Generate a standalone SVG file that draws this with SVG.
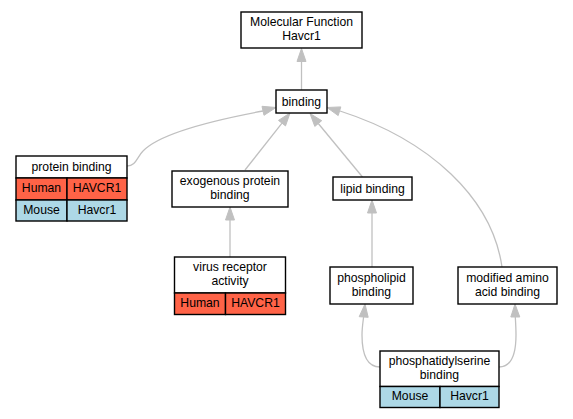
<svg xmlns="http://www.w3.org/2000/svg" width="573" height="419" viewBox="0 0 573 419">
<style>
.box{fill:#fff;stroke:#000;stroke-width:1.4}
.hum{fill:#ff6347;stroke:#000;stroke-width:1.4}
.mou{fill:#add8e6;stroke:#000;stroke-width:1.4}
.e{fill:none;stroke:#c0c0c0;stroke-width:1.3}
.ah{fill:#c0c0c0;stroke:#c0c0c0;stroke-width:1}
text{font-family:"Liberation Sans",Arial,sans-serif;font-size:12.2px;fill:#000;text-anchor:middle}
</style>
<rect width="573" height="419" fill="#fff"/>
<g id="connectors">
  <path class="e" d="M301.5,90 L301.5,61"/>
  <polygon class="ah" points="301.5,48.5 306,61.5 297,61.5"/>
  <path class="e" d="M127,166 C136,166 137,157 143,151 C160,133 220,119 263,111"/>
  <polygon class="ah" points="276,107.5 264,115.3 262,106.3"/>
  <path class="e" d="M245,170 L282,123.2"/>
  <polygon class="ah" points="290,113 285.5,125.9 278.5,120.4"/>
  <path class="e" d="M362.5,177 L318.3,123.5"/>
  <polygon class="ah" points="310,113.5 321.7,120.7 314.8,126.4"/>
  <path class="e" d="M502,267 C492,198 430,140 340,111"/>
  <polygon class="ah" points="327,107.5 340.8,106.9 338.2,115.6"/>
  <path class="e" d="M372,267 L372,213"/>
  <polygon class="ah" points="372,200 376.5,213 367.5,213"/>
  <path class="e" d="M230,257 L230,220"/>
  <polygon class="ah" points="230,207 234.5,220 225.5,220"/>
  <path class="e" d="M380,367 C366,367 362,352 362,335 C362,328 363,322 363.6,317"/>
  <polygon class="ah" points="365,304 368.2,317.3 359.2,316.7"/>
  <path class="e" d="M499,367 C512,367 516,352 516,335 C516,328 515.6,322 515.3,317"/>
  <polygon class="ah" points="515,304 519.8,317 510.8,317"/>
</g>
<g id="mf">
  <rect class="box" x="241" y="12" width="121" height="36"/>
  <text x="301.5" y="26">Molecular Function</text>
  <text x="301.5" y="40">Havcr1</text>
</g>
<g id="binding">
  <rect class="box" x="276" y="90" width="51" height="23"/>
  <text x="301.5" y="106">binding</text>
</g>
<g id="protein-binding">
  <rect class="box" x="16" y="156" width="111" height="22"/>
  <rect class="hum" x="16" y="178" width="51" height="22"/>
  <rect class="hum" x="67" y="178" width="60" height="22"/>
  <rect class="mou" x="16" y="200" width="51" height="21"/>
  <rect class="mou" x="67" y="200" width="60" height="21"/>
  <text x="71.5" y="170.5">protein binding</text>
  <text x="41.5" y="192">Human</text>
  <text x="97" y="192">HAVCR1</text>
  <text x="41.5" y="213.5">Mouse</text>
  <text x="97" y="213.5">Havcr1</text>
</g>
<g id="exogenous">
  <rect class="box" x="172" y="171" width="116" height="36"/>
  <text x="230" y="184.5">exogenous protein</text>
  <text x="230" y="198.5">binding</text>
</g>
<g id="virus">
  <rect class="box" x="174.5" y="257" width="111" height="36"/>
  <rect class="hum" x="174.5" y="293" width="51" height="21.5"/>
  <rect class="hum" x="225.5" y="293" width="60" height="21.5"/>
  <text x="230" y="270.5">virus receptor</text>
  <text x="230" y="284.5">activity</text>
  <text x="200" y="307">Human</text>
  <text x="255.5" y="307">HAVCR1</text>
</g>
<g id="lipid">
  <rect class="box" x="333" y="177" width="79" height="23"/>
  <text x="372.5" y="193">lipid binding</text>
</g>
<g id="phospholipid">
  <rect class="box" x="330" y="267" width="83" height="37"/>
  <text x="371.5" y="281.5">phospholipid</text>
  <text x="371.5" y="295.5">binding</text>
</g>
<g id="modified">
  <rect class="box" x="458" y="267" width="99" height="37"/>
  <text x="507.5" y="281.5">modified amino</text>
  <text x="507.5" y="295.5">acid binding</text>
</g>
<g id="phosphatidylserine">
  <rect class="box" x="380" y="351" width="119" height="35.5"/>
  <rect class="mou" x="380" y="386.5" width="60" height="21"/>
  <rect class="mou" x="440" y="386.5" width="59" height="21"/>
  <text x="439.5" y="364.5">phosphatidylserine</text>
  <text x="439.5" y="378.5">binding</text>
  <text x="410" y="400">Mouse</text>
  <text x="469.5" y="400">Havcr1</text>
</g>
</svg>
